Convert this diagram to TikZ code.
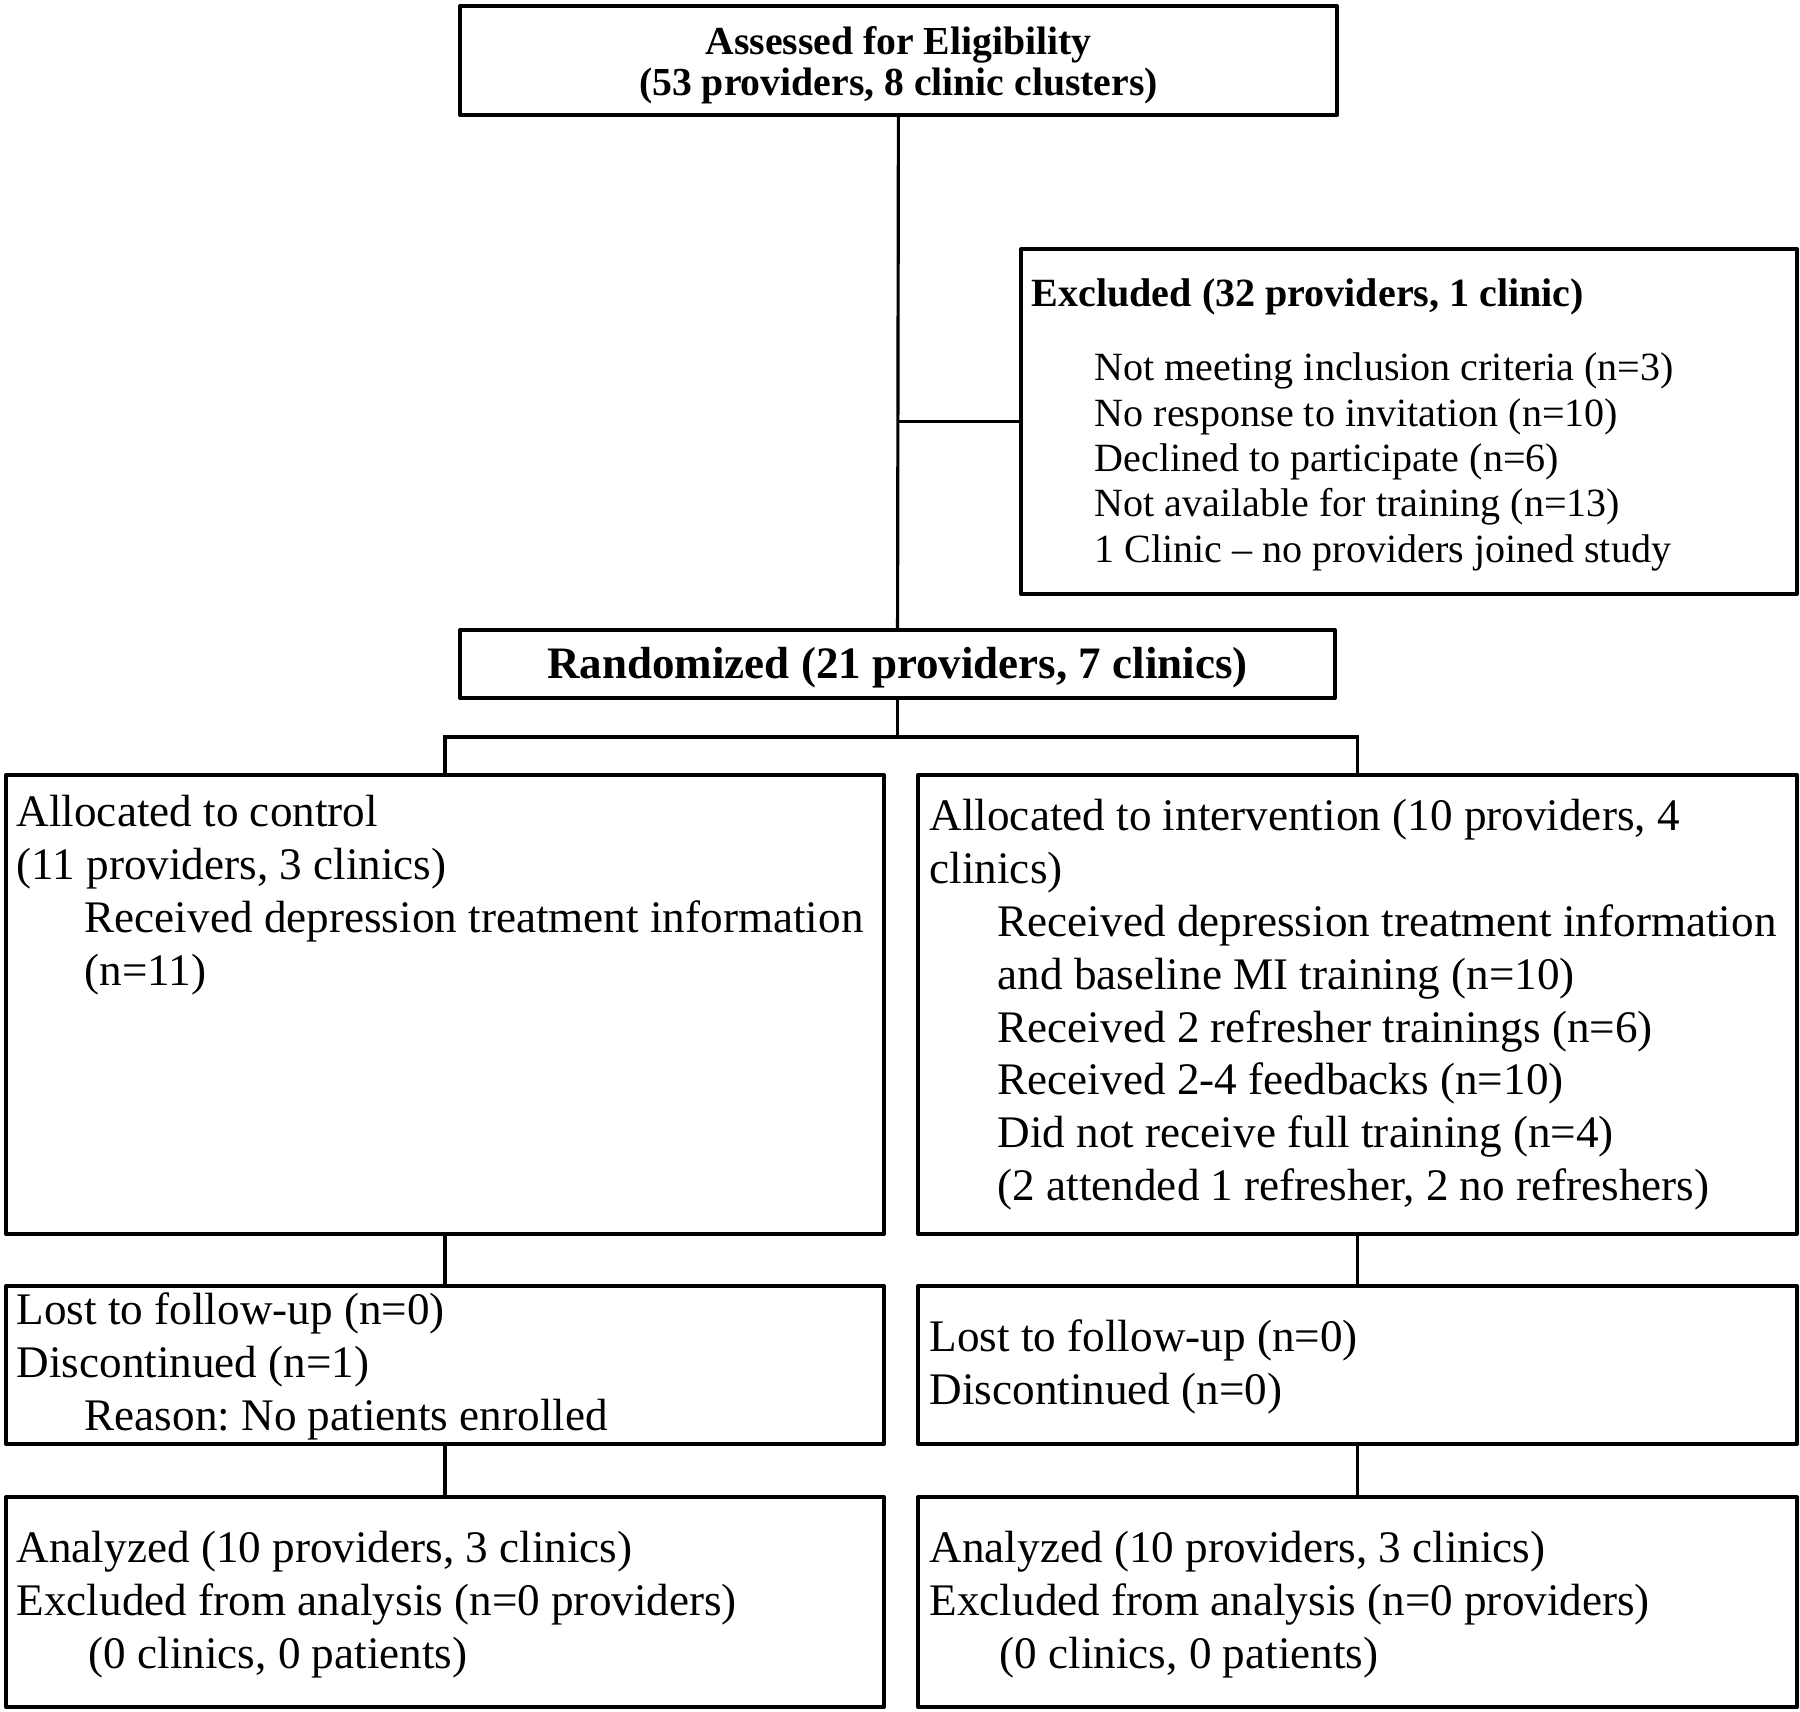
\documentclass[tikz,border=0pt]{standalone}
\usepackage{fontspec}
\setmainfont{Liberation Serif}
\usepackage{tikz}
\usetikzlibrary{positioning}
\usetikzlibrary{calc}
\frenchspacing

\newcommand{\bodyfont}{\fontsize{12.85}{15.05}\selectfont}
\newcommand{\exclfont}{\fontsize{11.4}{12.9}\selectfont}
\newcommand{\ind}{\hspace*{0.68cm}}

\tikzset{
  flowbox/.style={draw, line width=1.15pt, line join=round, inner sep=0pt},
  flowtext/.style={inner sep=0pt, align=left, font=\bodyfont},
  link/.style={line width=0.9pt}
}

\begin{document}
\begin{tikzpicture}
\useasboundingbox (0,0) rectangle (18,-17.12);
% top of the chart
\node[flowbox, minimum width=8.77cm, minimum height=1.09cm] (assess) at (8.985,-0.605) {};
\node[inner sep=0pt, align=center, font=\fontsize{11.3}{11.6}\selectfont\bfseries, yshift=-0.046cm] (assesstext) at (assess) {Assessed for Eligibility\\(53 providers, 8 clinic clusters)};
\node[flowbox, minimum width=7.76cm, minimum height=3.45cm] (excl) at (14.09,-4.215) {};
\node[flowtext, font=\exclfont, below right=0.31cm and 0.12cm of excl.north west] (excltext) {\textbf{Excluded (32 providers, 1 clinic)}\\[0.29cm]
\hspace*{0.63cm}Not meeting inclusion criteria (n=3)\\
\hspace*{0.63cm}No response to invitation (n=10)\\
\hspace*{0.63cm}Declined to participate (n=6)\\
\hspace*{0.63cm}Not available for training (n=13)\\
\hspace*{0.63cm}1 Clinic -- no providers joined study};
\node[flowbox, minimum width=8.75cm, minimum height=0.68cm] (rand) at (8.975,-6.64) {};
\node[inner sep=0pt, font=\fontsize{12.8}{15}\selectfont\bfseries, yshift=-0.04cm] (randtext) at (rand) {Randomized (21 providers, 7 clinics)};
% allocation
\node[flowbox, minimum width=8.78cm, minimum height=4.59cm] (ctrl) at (4.45,-10.045) {};
\node[flowtext, below right=0.215cm and 0.12cm of ctrl.north west] (ctrltext) {Allocated to control\\
(11 providers, 3 clinics)\\
\ind Received depression treatment information\\
\ind (n=11)};
\node[flowbox, minimum width=8.79cm, minimum height=4.59cm] (intv) at (13.575,-10.045) {};
\node[flowtext, below right=0.255cm and 0.13cm of intv.north west] (intvtext) {Allocated to intervention (10 providers, 4\\
clinics)\\
\ind Received depression treatment information\\
\ind and baseline MI training (n=10)\\
\ind Received 2 refresher trainings (n=6)\\
\ind Received 2-4 feedbacks (n=10)\\
\ind Did not receive full training (n=4)\\
\ind (2 attended 1 refresher, 2 no refreshers)};
% follow-up
\node[flowbox, minimum width=8.78cm, minimum height=1.58cm] (lostc) at (4.45,-13.65) {};
\node[flowtext, below right=0.085cm and 0.12cm of lostc.north west] (lostctext) {Lost to follow-up (n=0)\\
Discontinued (n=1)\\
\ind Reason: No patients enrolled};
\node[flowbox, minimum width=8.79cm, minimum height=1.58cm] (losti) at (13.575,-13.65) {};
\node[flowtext, below right=0.355cm and 0.13cm of losti.north west] (lostitext) {Lost to follow-up (n=0)\\
Discontinued (n=0)};
% analysis
\node[flowbox, minimum width=8.78cm, minimum height=2.10cm] (analc) at (4.45,-16.02) {};
\node[flowtext, below right=0.355cm and 0.12cm of analc.north west] (analctext) {Analyzed (10 providers, 3 clinics)\\
Excluded from analysis (n=0 providers)\\
\hspace*{0.72cm}(0 clinics, 0 patients)};
\node[flowbox, minimum width=8.79cm, minimum height=2.10cm] (anali) at (13.575,-16.02) {};
\node[flowtext, below right=0.355cm and 0.13cm of anali.north west] (analitext) {Analyzed (10 providers, 3 clinics)\\
Excluded from analysis (n=0 providers)\\
\hspace*{0.70cm}(0 clinics, 0 patients)};
% connectors
\coordinate (branch) at (assess.south |- excl.west);
\coordinate (split) at ($(rand.south)+(0,-0.37)$);
\draw[link] (assess) -- (rand);
\draw[link] (branch) -- (excl.west);
\draw[link] (rand) -- (split);
\draw[link] (ctrl.north) |- (split) -| (intv.north);
\draw[link] (ctrl) -- (lostc);
\draw[link] (intv) -- (losti);
\draw[link] (lostc) -- (analc);
\draw[link] (losti) -- (anali);
\end{tikzpicture}
\end{document}
